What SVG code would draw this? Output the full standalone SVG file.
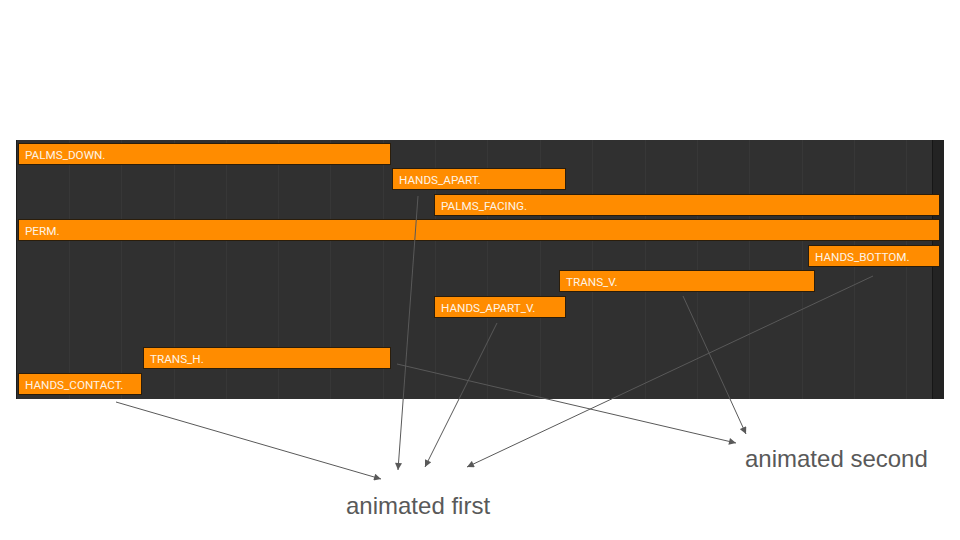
<svg xmlns="http://www.w3.org/2000/svg" width="960" height="540" viewBox="0 0 960 540">
<defs>
<style>
.bar{fill:#ff8c00;stroke:#2b1d0a;stroke-width:1}
.lbl{font-family:Roboto,"Liberation Sans",sans-serif;font-size:11.7px;fill:#fdf3e6}
.grid{stroke:#373737;stroke-width:1}
.conn{stroke:#595959;stroke-width:1;fill:none;marker-end:url(#ah)}
.cap{font-family:"Liberation Sans",Arial,sans-serif;font-size:24px;fill:#595959}
</style>
<marker id="ah" viewBox="0 0 10 10" refX="10" refY="5" markerWidth="9" markerHeight="7" markerUnits="userSpaceOnUse" orient="auto">
<path d="M0,0 L10,5 L0,10 z" fill="#595959"/>
</marker>
</defs>
<rect width="960" height="540" fill="#ffffff"/>
<g id="panel">
<rect x="16" y="140" width="928" height="259" fill="#303030"/>
<rect x="932" y="140" width="12" height="259" fill="#232323"/>
<line x1="932.5" y1="140" x2="932.5" y2="399" stroke="#161616"/>
<line x1="16.5" y1="140" x2="16.5" y2="399" stroke="#1c1c1c"/>
<g class="grid">
<line x1="69.5" y1="140" x2="69.5" y2="399"/>
<line x1="121.5" y1="140" x2="121.5" y2="399"/>
<line x1="174.5" y1="140" x2="174.5" y2="399"/>
<line x1="226.5" y1="140" x2="226.5" y2="399"/>
<line x1="278.5" y1="140" x2="278.5" y2="399"/>
<line x1="330.5" y1="140" x2="330.5" y2="399"/>
<line x1="383.5" y1="140" x2="383.5" y2="399"/>
<line x1="435.5" y1="140" x2="435.5" y2="399"/>
<line x1="487.5" y1="140" x2="487.5" y2="399"/>
<line x1="540.5" y1="140" x2="540.5" y2="399"/>
<line x1="592.5" y1="140" x2="592.5" y2="399"/>
<line x1="645.5" y1="140" x2="645.5" y2="399"/>
<line x1="697.5" y1="140" x2="697.5" y2="399"/>
<line x1="749.5" y1="140" x2="749.5" y2="399"/>
<line x1="802.5" y1="140" x2="802.5" y2="399"/>
<line x1="854.5" y1="140" x2="854.5" y2="399"/>
<line x1="906.5" y1="140" x2="906.5" y2="399"/>
</g>
</g>
<g id="palms_down"><rect class="bar" x="18.5" y="143.5" width="372" height="21"/><text class="lbl" x="25" y="159">PALMS_DOWN.</text></g>
<g id="hands_apart"><rect class="bar" x="392.5" y="168.5" width="173" height="21"/><text class="lbl" x="399" y="184">HANDS_APART.</text></g>
<g id="palms_facing"><rect class="bar" x="434.5" y="194.5" width="505" height="21"/><text class="lbl" x="441" y="210">PALMS_FACING.</text></g>
<g id="perm"><rect class="bar" x="18.5" y="219.5" width="921" height="21"/><text class="lbl" x="25" y="235">PERM.</text></g>
<g id="hands_bottom"><rect class="bar" x="808.5" y="245.5" width="131" height="21"/><text class="lbl" x="815" y="261">HANDS_BOTTOM.</text></g>
<g id="trans_v"><rect class="bar" x="559.5" y="270.5" width="255" height="21"/><text class="lbl" x="566" y="286">TRANS_V.</text></g>
<g id="hands_apart_v"><rect class="bar" x="434.5" y="296.5" width="131" height="21"/><text class="lbl" x="441" y="312">HANDS_APART_V.</text></g>
<g id="trans_h"><rect class="bar" x="143.5" y="347.5" width="247" height="21"/><text class="lbl" x="150" y="363">TRANS_H.</text></g>
<g id="hands_contact"><rect class="bar" x="18.5" y="373.5" width="123" height="21"/><text class="lbl" x="25" y="389">HANDS_CONTACT.</text></g>
<g id="connectors">
<line class="conn" x1="116" y1="402" x2="381" y2="479"/>
<line class="conn" x1="418" y1="196" x2="398" y2="470"/>
<line class="conn" x1="497" y1="323" x2="425" y2="467"/>
<line class="conn" x1="873" y1="276" x2="467" y2="467"/>
<line class="conn" x1="683" y1="296" x2="746" y2="434"/>
<line class="conn" x1="397" y1="364" x2="736" y2="443"/>
</g>
<g id="animated_first"><text class="cap" x="346" y="514">animated first</text></g>
<g id="animated_second"><text class="cap" x="745" y="467">animated second</text></g>
</svg>
